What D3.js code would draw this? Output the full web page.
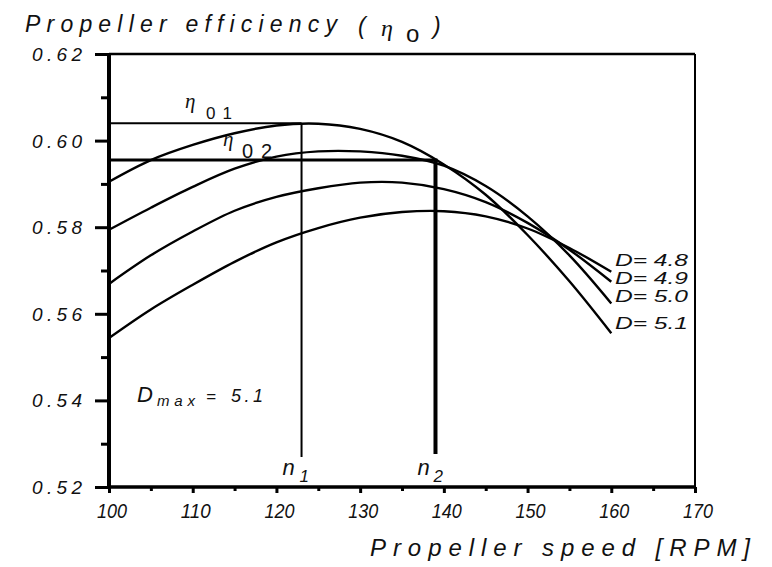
<!DOCTYPE html>
<html>
<head>
<meta charset="utf-8">
<script src="https://cdn.jsdelivr.net/npm/d3@7"></script>
<style>
  html, body { margin: 0; padding: 0; background: #fff; }
  svg { display: block; }
  text { font-family: "Liberation Sans", Arial, sans-serif; fill: #111; }
</style>
</head>
<body>
<svg id="chart" width="772" height="567"></svg>
<script>
// ---- data ----
const rpm = [100, 105, 110, 115, 120, 125, 130, 135, 140, 145, 150, 155, 160];
const diameters = ["4.8", "4.9", "5.0", "5.1"];
const effD48 = [0.5544, 0.5610, 0.5667, 0.5720, 0.5765, 0.5798, 0.5822, 0.5835, 0.5837, 0.5825, 0.5797, 0.5752, 0.5697];
const effD49 = [0.5669, 0.5735, 0.5790, 0.5838, 0.5870, 0.5890, 0.5903, 0.5903, 0.5888, 0.5858, 0.5810, 0.5748, 0.5674];
const effD50 = [0.5794, 0.5845, 0.5893, 0.5935, 0.5963, 0.5975, 0.5975, 0.5965, 0.5942, 0.5895, 0.5825, 0.5735, 0.5624];
const effD51 = [0.5905, 0.5955, 0.5990, 0.6017, 0.6035, 0.6039, 0.6027, 0.5997, 0.5945, 0.5875, 0.5782, 0.5675, 0.5555];
const xTicks = [100, 110, 120, 130, 140, 150, 160, 170];
const yTicks = [0.52, 0.54, 0.56, 0.58, 0.60, 0.62];
const yTickLabels = ["0.52", "0.54", "0.56", "0.58", "0.60", "0.62"];
const n1 = 123, n2 = 139;
const eta01 = 0.604, eta02 = 0.5955;
const dMax = "5.1";

const series = [effD48, effD49, effD50, effD51];

// ---- scales ----
const svg = d3.select("#chart");
svg.append("rect").attr("width", 772).attr("height", 567).attr("fill", "#fff");
const x = d3.scaleLinear().domain([100, 170]).range([109, 695]);
const y = d3.scaleLinear().domain([0.52, 0.62]).range([487, 54]);

// ---- frame (top and right) ----
svg.append("line").attr("x1", x(100)).attr("x2", x(170)).attr("y1", y(0.62)).attr("y2", y(0.62))
  .attr("stroke", "#000").attr("stroke-width", 2.5);
svg.append("line").attr("x1", x(170)).attr("x2", x(170)).attr("y1", y(0.62)).attr("y2", y(0.52))
  .attr("stroke", "#000").attr("stroke-width", 2);

// ---- y axis ----
const yAxis = d3.axisLeft(y).tickValues(d3.range(0.52, 0.6201, 0.01)).tickSize(0).tickFormat("");
const gy = svg.append("g").attr("transform", `translate(${x(100)},0)`).call(yAxis);
gy.select(".domain").remove();
gy.selectAll(".tick line").remove();
gy.selectAll(".tick").append("line")
  .attr("x1", (d, i) => i % 2 === 0 ? -14 : -8).attr("x2", 0)
  .attr("stroke", "#000").attr("stroke-width", 3);
svg.append("line").attr("x1", x(100)).attr("x2", x(100)).attr("y1", y(0.62) - 1).attr("y2", y(0.52) + 2)
  .attr("stroke", "#000").attr("stroke-width", 4);
svg.selectAll(".ylab").data(yTicks).enter().append("text")
  .attr("class", "ylab")
  .attr("x", 32).attr("y", d => y(d) + 7)
  .attr("font-size", 19).attr("font-style", "italic")
  .attr("textLength", 50).attr("lengthAdjust", "spacing")
  .attr("fill", "#222")
  .text((d, i) => yTickLabels[i]);

// ---- x axis ----
const xAxis = d3.axisBottom(x).tickValues(d3.range(100, 170.01, 5)).tickSize(0).tickFormat("");
const gx = svg.append("g").attr("transform", `translate(0,${y(0.52)})`).call(xAxis);
gx.select(".domain").remove();
gx.selectAll(".tick line").remove();
gx.selectAll(".tick").append("line")
  .attr("y1", 0).attr("y2", (d, i) => i % 2 === 0 ? 6 : 4)
  .attr("stroke", "#000").attr("stroke-width", 3);
svg.append("line").attr("x1", x(100) - 2).attr("x2", x(170) + 1).attr("y1", y(0.52)).attr("y2", y(0.52))
  .attr("stroke", "#000").attr("stroke-width", 3.5);
svg.selectAll(".xlab").data(xTicks).enter().append("text")
  .attr("class", "xlab")
  .attr("x", d => x(d) - 12).attr("y", 518)
  .attr("font-size", 21).attr("font-style", "italic")
  .attr("textLength", 30).attr("lengthAdjust", "spacingAndGlyphs")
  .attr("fill", "#222")
  .text(d => d);

// ---- curves ----
const line = d3.line().x((d, i) => x(rpm[i])).y(d => y(d)).curve(d3.curveCatmullRom.alpha(0.5));
svg.selectAll(".curve").data(series).enter().append("path")
  .attr("class", "curve")
  .attr("d", d => line(d))
  .attr("fill", "none").attr("stroke", "#000").attr("stroke-width", 2.4);

// ---- eta lines and n markers ----
svg.append("line").attr("x1", x(100)).attr("x2", x(n1)).attr("y1", y(eta01)).attr("y2", y(eta01))
  .attr("stroke", "#000").attr("stroke-width", 2);
svg.append("line").attr("x1", x(n1)).attr("x2", x(n1)).attr("y1", y(eta01)).attr("y2", 457)
  .attr("stroke", "#000").attr("stroke-width", 2);
svg.append("line").attr("x1", x(100)).attr("x2", x(n2) + 2).attr("y1", y(eta02)).attr("y2", y(eta02))
  .attr("stroke", "#000").attr("stroke-width", 3);
svg.append("line").attr("x1", x(n2)).attr("x2", x(n2)).attr("y1", y(eta02)).attr("y2", 454)
  .attr("stroke", "#000").attr("stroke-width", 4);

// n labels
const nl = svg.append("text").attr("font-style", "italic").attr("fill", "#222");
nl.append("tspan").attr("x", x(n1) - 19).attr("y", 475).attr("font-size", 22).text("n");
nl.append("tspan").attr("x", x(n1) - 2).attr("y", 482).attr("font-size", 17).text("1");
const nl2 = svg.append("text").attr("font-style", "italic").attr("fill", "#222");
nl2.append("tspan").attr("x", x(n2) - 18).attr("y", 475).attr("font-size", 22).text("n");
nl2.append("tspan").attr("x", x(n2) - 2).attr("y", 482).attr("font-size", 17).text("2");

// eta labels
const e1 = svg.append("text").attr("fill", "#222");
e1.append("tspan").attr("x", 185).attr("y", 108).attr("font-size", 21).attr("font-style", "italic")
  .attr("font-family", "Liberation Serif, serif").text("η");
e1.append("tspan").attr("x", 206).attr("y", 119).attr("font-size", 17).attr("textLength", 26).text("01");
const e2 = svg.append("text").attr("fill", "#222");
e2.append("tspan").attr("x", 223).attr("y", 146).attr("font-size", 21).attr("font-style", "italic")
  .attr("font-family", "Liberation Serif, serif").text("η");
e2.append("tspan").attr("x", 242).attr("y", 158).attr("font-size", 20).attr("textLength", 30).text("02");

// D labels
const labelNudge = [-12, -4, -7, -10];
svg.selectAll(".dlab").data(series).enter().append("text")
  .attr("class", "dlab")
  .attr("x", 615)
  .attr("y", (d, i) => y(d[d.length - 1]) + labelNudge[i] + 6)
  .attr("font-size", 16).attr("font-style", "italic")
  .attr("textLength", 73).attr("lengthAdjust", "spacingAndGlyphs")
  .attr("fill", "#222")
  .text((d, i) => "D= " + diameters[i]);

// Dmax label
const dm = svg.append("text").attr("font-style", "italic").attr("fill", "#222");
dm.append("tspan").attr("x", 137).attr("y", 402).attr("font-size", 22).text("D");
dm.append("tspan").attr("x", 157).attr("y", 406).attr("font-size", 15).attr("textLength", 38).text("max");
dm.append("tspan").attr("x", 206).attr("y", 402).attr("font-size", 17).text("=");
dm.append("tspan").attr("x", 231).attr("y", 402).attr("font-size", 18).attr("textLength", 32).text(dMax);

// titles
const t = svg.append("text").attr("font-size", 23).attr("fill", "#111");
t.append("tspan").attr("x", 25).attr("y", 32).attr("font-style", "italic")
  .attr("textLength", 312).attr("lengthAdjust", "spacing").text("Propeller efficiency");
t.append("tspan").attr("x", 358).attr("y", 34).attr("font-style", "italic").text("(");
t.append("tspan").attr("x", 381).attr("y", 36).attr("font-style", "italic")
  .attr("font-family", "Liberation Serif, serif").attr("font-size", 24).text("η");
t.append("tspan").attr("x", 406).attr("y", 42).attr("font-size", 24).text("o");
t.append("tspan").attr("x", 433).attr("y", 34).attr("font-style", "italic").text(")");

svg.append("text").attr("x", 370).attr("y", 556)
  .attr("font-size", 24).attr("font-style", "italic").attr("fill", "#111")
  .attr("textLength", 380).attr("lengthAdjust", "spacing")
  .text("Propeller speed [RPM]");
</script>
</body>
</html>
